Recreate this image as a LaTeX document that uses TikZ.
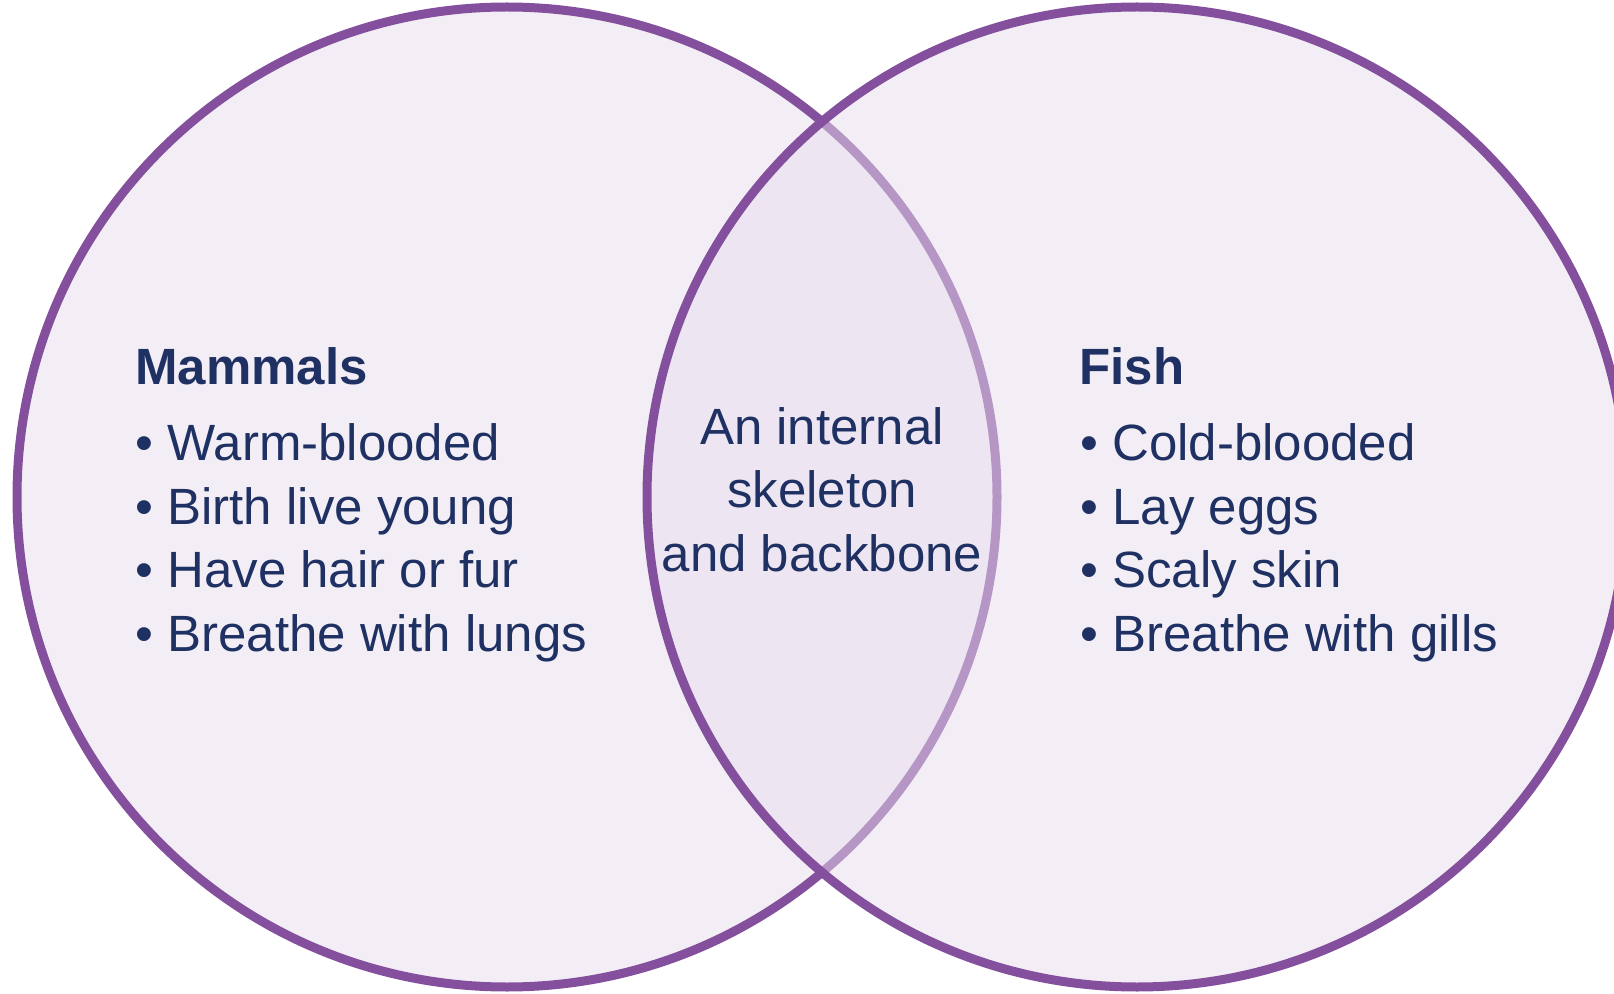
\documentclass[tikz,border=0pt]{standalone}
\usepackage{fontspec}
\setmainfont{Liberation Sans}
\usepackage{tikz}
\usetikzlibrary{positioning}
\definecolor{VennPurple}{RGB}{132,80,158}
\definecolor{VennFill}{RGB}{231,221,237}
\definecolor{VennNavy}{RGB}{31,49,99}
\newcommand\vitem{\textbullet\ }

\begin{document}
\begin{tikzpicture}[x=0.5pt,y=0.5pt,font=\fontsize{25.5pt}{31.7pt}\selectfont,
  set/.style={circle,draw=VennPurple,line width=4.5pt,fill=VennFill,fill opacity=.5,draw opacity=1,minimum size=490pt,inner sep=0pt},
  txt/.style={text=VennNavy,text opacity=1,inner sep=0pt},
  head/.style={txt,anchor=base west,font=\fontsize{25.5pt}{31.7pt}\selectfont\bfseries},
  list/.style={txt,anchor=base west,align=left}]
\useasboundingbox (0,0) rectangle (1614,993);
\clip (0,0) rectangle (1614,993);
\node[set] (mammals) at (507,496) {};
\node[set] (fish) at (1137,496) {};
% multi-line nodes sit on the baseline of their last line
\node[head] (mamhead) at (135,608) {Mammals};
\node[list] (mamlist) at (135,342) {\vitem Warm-blooded\\ \vitem Birth live young\\ \vitem Have hair or fur\\ \vitem Breathe with lungs};
\node[txt,anchor=base,align=center] (both) at (822,422) {An internal\\ skeleton\\ and backbone};
\node[head] (fishhead) at (1079,608) {Fish};
\node[list] (fishlist) at (1080,342) {\vitem Cold-blooded\\ \vitem Lay eggs\\ \vitem Scaly skin\\ \vitem Breathe with gills};
\end{tikzpicture}
\end{document}
